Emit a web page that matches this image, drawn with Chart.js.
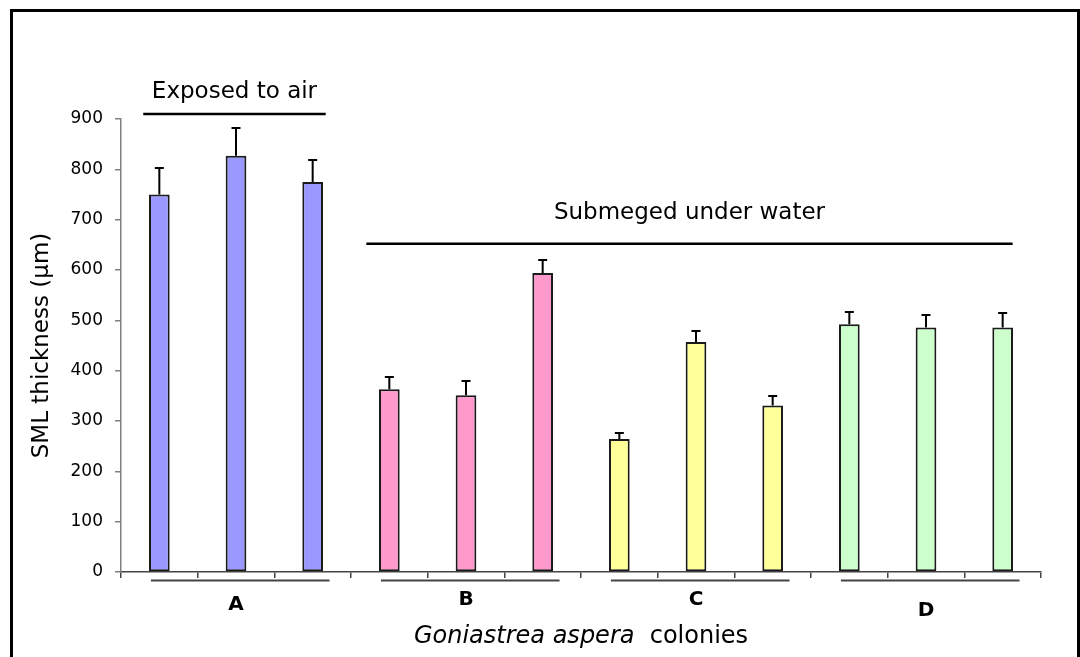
<!DOCTYPE html>
<html>
<head>
<meta charset="utf-8">
<script src="https://cdn.jsdelivr.net/npm/chart.js@4.4.1/dist/chart.umd.min.js"></script>
<style>
  html, body { margin: 0; padding: 0; background: #fff; overflow: hidden; }
  #wrap { position: relative; width: 1080px; height: 657px; }
  #frame { position: absolute; left: 10px; top: 9px; width: 1070px; height: 720px;
           box-sizing: border-box; border: 3px solid #000; pointer-events: none; }
</style>
</head>
<body>
<div id="wrap">
  <canvas id="chart"></canvas>
  <div id="frame"></div>
</div>
<script>
// ---- data ----
const colonies = ['A1', 'A2', 'A3', 'B1', 'B2', 'B3', 'C1', 'C2', 'C3', 'D1', 'D2', 'D3'];
const thickness = [750, 827, 775, 363, 351, 594, 264, 457, 331, 492, 486, 486];
const errors = [52, 56, 43, 24, 29, 25, 12, 21, 19, 25, 25, 28];
const barColors = ['#9999FF', '#9999FF', '#9999FF', '#FF99CC', '#FF99CC', '#FF99CC',
                   '#FFFF99', '#FFFF99', '#FFFF99', '#CCFFCC', '#CCFFCC', '#CCFFCC'];
const groupNames = ['A', 'B', 'C', 'D'];
const groupFirst = [0, 3, 6, 9];
const groupLast = [2, 5, 8, 11];
const yTicks = [0, 100, 200, 300, 400, 500, 600, 700, 800, 900];

const FONT = 'DejaVu Sans, Arial, sans-serif';

// brackets above the bars: caption, first/last colony, value of line and caption
const brackets = [
  { text: 'Exposed to air', from: 0, to: 2, lineAt: 910, textAt: 942 },
  { text: 'Submeged under water', from: 3, to: 11, lineAt: 652, textAt: 701 }
];

const overlay = {
  id: 'overlay',
  afterDatasetsDraw(chart) {
    const { ctx, scales: { y } } = chart;
    const meta = chart.getDatasetMeta(0);
    ctx.save();
    ctx.strokeStyle = '#000';
    ctx.lineWidth = 2;
    meta.data.forEach((bar, i) => {
      const top = Math.round(y.getPixelForValue(thickness[i] + errors[i]));
      ctx.beginPath();
      ctx.moveTo(bar.x, bar.y);
      ctx.lineTo(bar.x, top);
      ctx.moveTo(bar.x - 4.5, top);
      ctx.lineTo(bar.x + 4.5, top);
      ctx.stroke();
    });
    ctx.restore();
  },
  afterDraw(chart) {
    const { ctx, chartArea, scales: { x, y } } = chart;
    const step = x.width / colonies.length;
    const catX = (i, off) => x.getPixelForValue(i) + off * step;

    ctx.save();
    ctx.fillStyle = '#000';
    ctx.strokeStyle = '#000';

    // brackets with captions
    ctx.lineWidth = 2.5;
    ctx.font = '23px ' + FONT;
    ctx.textAlign = 'center';
    ctx.textBaseline = 'alphabetic';
    const bracketOff = [[-0.21, 0.17], [-0.3, 0.13]];
    brackets.forEach((b, k) => {
      const x0 = catX(b.from, bracketOff[k][0]);
      const x1 = catX(b.to, bracketOff[k][1]);
      const ly = y.getPixelForValue(b.lineAt);
      ctx.beginPath();
      ctx.moveTo(x0, ly);
      ctx.lineTo(x1, ly);
      ctx.stroke();
      ctx.fillText(b.text, (x0 + x1) / 2, y.getPixelForValue(b.textAt));
    });

    // group lines and letters under the axis
    const labelDy = [38, 33, 33, 44];
    ctx.strokeStyle = '#444';
    ctx.lineWidth = 2;
    ctx.font = 'bold 20px ' + FONT;
    groupNames.forEach((g, k) => {
      const x0 = catX(groupFirst[k], -0.11);
      const x1 = catX(groupLast[k], 0.22);
      const gy = chartArea.bottom + 8.5;
      ctx.beginPath();
      ctx.moveTo(x0, gy);
      ctx.lineTo(x1, gy);
      ctx.stroke();
      const cx = (x.getPixelForValue(groupFirst[k]) + x.getPixelForValue(groupLast[k])) / 2;
      ctx.fillText(g, cx, chartArea.bottom + labelDy[k]);
    });

    // x axis title, species name in italics
    const ital = 'Goniastrea aspera';
    const rest = '  colonies';
    ctx.font = 'italic 24px ' + FONT;
    const w1 = ctx.measureText(ital).width;
    ctx.font = '24px ' + FONT;
    const w2 = ctx.measureText(rest).width;
    const startX = (chartArea.left + chartArea.right) / 2 - (w1 + w2) / 2;
    const ty = chartArea.bottom + 71;
    ctx.textAlign = 'left';
    ctx.font = 'italic 24px ' + FONT;
    ctx.fillText(ital, startX, ty);
    ctx.font = '24px ' + FONT;
    ctx.fillText(rest, startX + w1, ty);
    ctx.restore();
  }
};

new Chart(document.getElementById('chart'), {
  type: 'bar',
  data: {
    labels: colonies,
    datasets: [{
      data: thickness,
      backgroundColor: barColors,
      borderColor: '#1a1a1a',
      borderWidth: 2,
      borderSkipped: false,
      categoryPercentage: 1,
      barPercentage: 0.27
    }]
  },
  options: {
    responsive: true,
    maintainAspectRatio: false,
    animation: false,
    layout: { padding: { top: 119, right: 39, bottom: 0, left: 0 } },
    plugins: { legend: { display: false }, tooltip: { enabled: false } },
    scales: {
      x: {
        grid: { offset: true, drawOnChartArea: false, drawTicks: true, tickLength: 6, color: '#444', lineWidth: 1.5 },
        border: { color: '#444', width: 1.5 },
        ticks: { display: false },
        afterFit(scale) { scale.height = 85; }
      },
      y: {
        min: 0,
        max: 900,
        afterBuildTicks(scale) { scale.ticks = yTicks.map(v => ({ value: v })); },
        grid: { drawOnChartArea: false, drawTicks: true, tickLength: 6, color: '#808080', lineWidth: 1.5 },
        border: { color: '#808080', width: 1.5 },
        ticks: { color: '#000', padding: 12, font: { family: FONT, size: 17 } },
        title: {
          display: true,
          text: 'SML thickness (µm)',
          color: '#000',
          font: { family: FONT, size: 23 },
          padding: { top: 28, bottom: 0 }
        },
        afterFit(scale) { scale.width = 121; }
      }
    }
  },
  plugins: [overlay]
});
</script>
</body>
</html>
